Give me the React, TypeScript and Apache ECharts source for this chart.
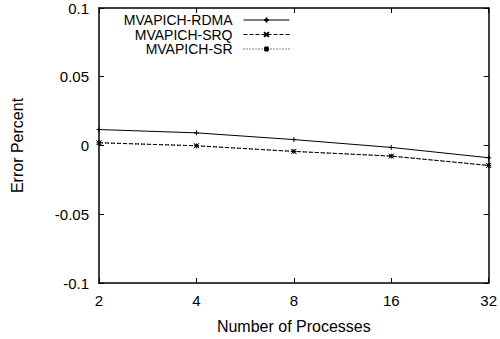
import React, { useEffect, useRef } from "react";
import * as echarts from "echarts";

const categories = ["2", "4", "8", "16", "32"];
const rdma = [0.0116, 0.0092, 0.0043, -0.0014, -0.0089];
const srq = [0.002, -0.0002, -0.0043, -0.0077, -0.0145];
const sr = [0.002, -0.0002, -0.0043, -0.0077, -0.0145];
const seriesNames = ["MVAPICH-RDMA", "MVAPICH-SRQ", "MVAPICH-SR"];

const FONT = "Liberation Sans, Arial, Helvetica, sans-serif";
const plusSym = "path://M0,5L10,5M5,0L5,10";
const crossSym = "path://M0,0L10,10M0,10L10,0";
const starSym = "path://M0,5L10,5M5,0L5,10M1,1L9,9M1,9L9,1";

export default function App() {
  const ref = useRef<HTMLDivElement>(null);
  useEffect(() => {
    if (!ref.current) return;
    const chart = echarts.init(ref.current, null, { renderer: "svg" });
    const mk = (name: string, data: number[], sym: string, type: any) => ({
      name,
      type: "line",
      data,
      symbol: sym,
      symbolSize: 5,
      showSymbol: true,
      lineStyle: { color: "#000", width: 1, type },
      itemStyle: { color: "#000", borderColor: "#000", borderWidth: 1 },
      emphasis: { disabled: true },
    });
    const legendBase = (name: string, top: number) => ({
      data: [name],
      right: 210,
      top,
      orient: "vertical",
      align: "right",
      padding: 0,
      itemWidth: 46,
      itemHeight: 6,
      lineStyle: { width: 1 },
      textStyle: {
        fontSize: 14,
        lineHeight: 14,
        color: "#000",
        fontFamily: FONT,
        padding: [0, 6, 0, 0],
      },
    });
    const axisLbl = { fontSize: 15, color: "#000", fontFamily: FONT };
    chart.setOption({
      animation: false,
      grid: { left: 99, right: 11, top: 8, bottom: 55 },
      legend: [
        legendBase(seriesNames[0], 13),
        legendBase(seriesNames[1], 27.5),
        legendBase(seriesNames[2], 42),
      ],
      xAxis: [
        {
          type: "category",
          data: categories,
          boundaryGap: false,
          name: "Number of Processes",
          nameLocation: "middle",
          nameGap: 35,
          nameTextStyle: { fontSize: 16, color: "#000", fontFamily: FONT },
          axisLine: { onZero: false, lineStyle: { color: "#000", width: 1.5 } },
          axisTick: { inside: true, length: 5, lineStyle: { color: "#000" }, alignWithLabel: true },
          axisLabel: { ...axisLbl, margin: 10 },
          splitLine: { show: false },
        },
        {
          type: "category",
          data: categories,
          boundaryGap: false,
          position: "top",
          axisLine: { onZero: false, lineStyle: { color: "#000", width: 1.5 } },
          axisTick: { inside: true, length: 5, lineStyle: { color: "#000" } },
          axisLabel: { show: false },
          splitLine: { show: false },
        },
      ],
      yAxis: [
        {
          type: "value",
          min: -0.1,
          max: 0.1,
          interval: 0.05,
          name: "Error Percent",
          nameLocation: "middle",
          nameGap: 74,
          nameTextStyle: { fontSize: 16, color: "#000", fontFamily: FONT },
          axisLine: { show: true, onZero: false, lineStyle: { color: "#000", width: 1.5 } },
          axisTick: { show: true, inside: true, length: 5, lineStyle: { color: "#000" } },
          axisLabel: { ...axisLbl, margin: 10 },
          splitLine: { show: false },
        },
        {
          type: "value",
          min: -0.1,
          max: 0.1,
          interval: 0.05,
          position: "right",
          axisLine: { show: true, onZero: false, lineStyle: { color: "#000", width: 1.5 } },
          axisTick: { show: true, inside: true, length: 5, lineStyle: { color: "#000" } },
          axisLabel: { show: false },
          splitLine: { show: false },
        },
      ],
      series: [
        mk(seriesNames[0], rdma, plusSym, "solid"),
        mk(seriesNames[1], srq, crossSym, [4, 2]),
        mk(seriesNames[2], sr, starSym, [1, 2]),
      ],
    });
    return () => chart.dispose();
  }, []);
  return (
    <div
      ref={ref}
      style={{ position: "fixed", left: 0, top: 0, width: 500, height: 339, background: "#fff" }}
    />
  );
}
